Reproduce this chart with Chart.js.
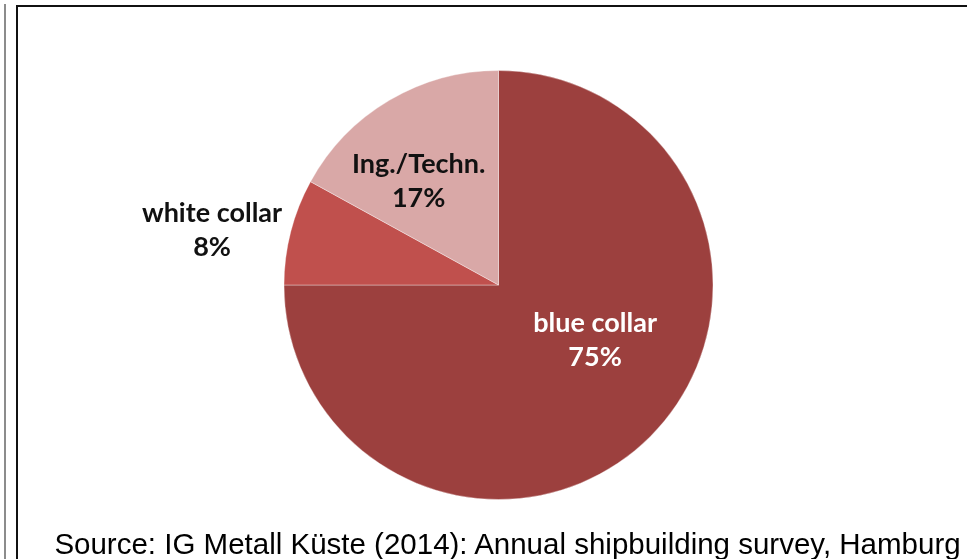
<!DOCTYPE html>
<html>
<head>
<meta charset="utf-8">
<script src="https://cdn.jsdelivr.net/npm/chart.js@4/dist/chart.umd.min.js"></script>
<style>
  html, body { margin: 0; padding: 0; background: #fff; }
  #wrap { position: relative; width: 967px; height: 559px; overflow: hidden; }
  #grayLine { position: absolute; left: 4px; top: 4px; width: 2px; height: 560px; background: #8c8c8c; }
  #frame { position: absolute; left: 16px; top: 5px; width: 980px; height: 600px; border-left: 2px solid #111; border-top: 2px solid #111; }
  #chart { position: absolute; left: 0; top: 0; }
  #source { position: absolute; left: 0; width: 1015px; top: 527px; text-align: center;
            font-family: "Liberation Sans", Arial, sans-serif; font-size: 29.5px; color: #000; white-space: nowrap; }
</style>
</head>
<body>
<div id="wrap">
  <div id="grayLine"></div>
  <div id="frame"></div>
  <canvas id="chart" width="967" height="559"></canvas>
  <div id="source">Source: IG Metall Küste (2014): Annual shipbuilding survey, Hamburg</div>
</div>
<script>
// ---- DADOS ----
const categorias = ["blue collar", "white collar", "Ing./Techn."];
const percentuais = [75, 8, 17];
const cores = ["#9c403e", "#c0504d", "#d9a8a7"];
const coresTexto = ["#ffffff", "#111111", "#111111"];
// posição do rótulo: fração do raio e ajuste de ângulo (graus)
const rotuloRaio = [0.52, 1.36, 0.61];
const rotuloAngulo = [-15, -3.5, -7];

// plugin simples para escrever os rótulos
const rotulosPlugin = {
    id: "rotulos",
    afterDatasetsDraw(chart) {
        const ctx = chart.ctx;
        const meta = chart.getDatasetMeta(0);
        meta.data.forEach((arco, i) => {
            const meio = (arco.startAngle + arco.endAngle) / 2 + rotuloAngulo[i] * Math.PI / 180;
            const r = arco.outerRadius * rotuloRaio[i];
            const x = arco.x + Math.cos(meio) * r;
            const y = arco.y + Math.sin(meio) * r;
            ctx.save();
            ctx.font = "bold 27px Lato, 'Open Sans', sans-serif";
            ctx.fillStyle = coresTexto[i];
            ctx.textAlign = "center";
            ctx.textBaseline = "middle";
            ctx.fillText(categorias[i], x, y - 17);
            ctx.fillText(percentuais[i] + "%", x, y + 17);
            ctx.restore();
        });
    }
};

const ctx = document.getElementById("chart").getContext("2d");
new Chart(ctx, {
    type: "pie",
    data: {
        labels: categorias,
        datasets: [{
            data: percentuais,
            backgroundColor: cores,
            borderColor: "rgba(255,255,255,0.35)",
            borderWidth: 1
        }]
    },
    options: {
        responsive: false,
        animation: false,
        layout: { padding: { left: 283, right: 253, top: 70, bottom: 59 } },
        plugins: {
            legend: { display: false },
            tooltip: { enabled: false }
        }
    },
    plugins: [rotulosPlugin]
});
</script>
</body>
</html>
